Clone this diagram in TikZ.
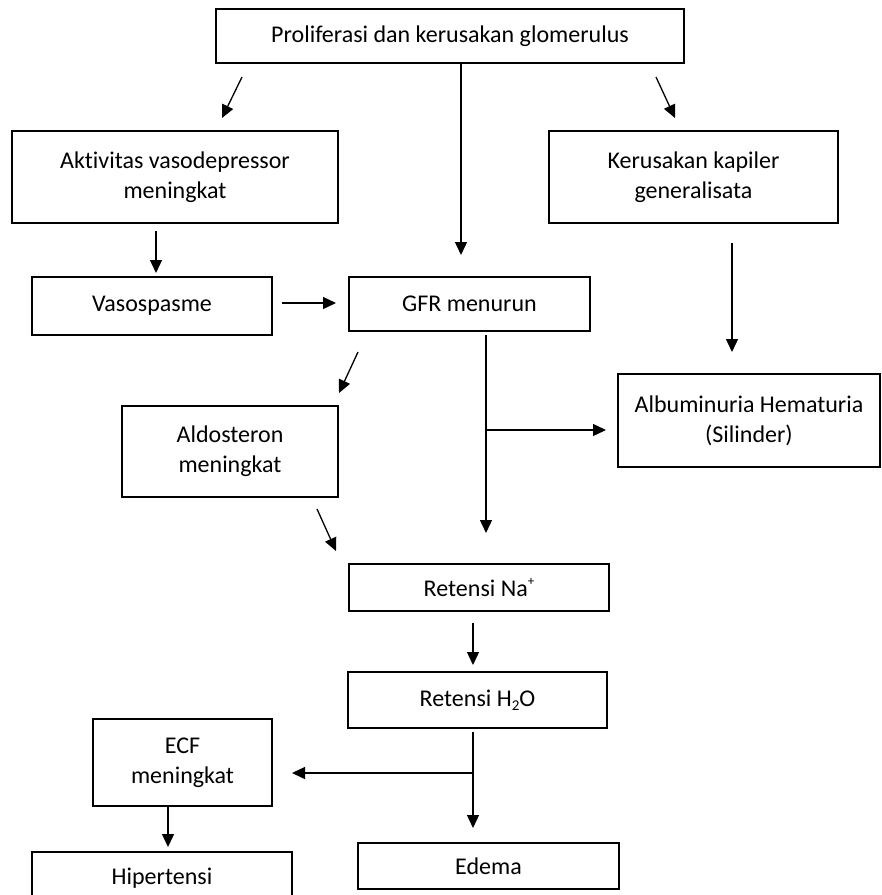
\documentclass[tikz,border=0pt]{standalone}
\usepackage{fontspec}
\setmainfont[Ligatures=NoCommon]{Carlito}
\usetikzlibrary{arrows.meta}
\newcommand{\mysup}[1]{\raisebox{0.42em}{\fontsize{13}{13}\selectfont #1}}
\newcommand{\mysub}[1]{\raisebox{-0.18em}{\fontsize{15}{15}\selectfont #1}}
\begin{document}
\begin{tikzpicture}[x=1pt,y=-1pt,
  box/.style={draw, line width=1.4pt, inner sep=0pt, align=center, font=\fontsize{24}{30}\selectfont},
  arr/.style={line width=1.3pt, -{Triangle[length=13pt,width=12pt]}}]
\useasboundingbox (0,0) rectangle (882,895);
\clip (0,0) rectangle (882,895);
% boxes
\node[box, minimum width=468pt, minimum height=54pt] (top) at (450,36) {Proliferasi dan kerusakan glomerulus};
\node[box, minimum width=326pt, minimum height=92pt] (akt) at (175,177) {Aktivitas vasodepressor\\meningkat};
\node[box, minimum width=289pt, minimum height=92pt] (ker) at (693.5,177) {Kerusakan kapiler\\generalisata};
\node[box, minimum width=240pt, minimum height=58pt] (vaso) at (152,306) {Vasospasme};
\node[box, minimum width=241pt, minimum height=54pt] (gfr) at (469.5,304) {GFR menurun};
\node[box, minimum width=216pt, minimum height=91pt] (ald) at (230,451.5) {Aldosteron\\meningkat};
\node[box, minimum width=262pt, minimum height=93pt] (alb) at (749,420.5) {Albuminuria Hematuria\\(Silinder)};
\node[box, minimum width=260pt, minimum height=47pt] (na) at (479,587.5) {Retensi Na\mysup{+}};
\node[box, minimum width=259pt, minimum height=56pt] (h2o) at (477.5,700) {Retensi H\mysub{2}O};
\node[box, minimum width=179pt, minimum height=87pt] (ecf) at (182.5,762.5) {ECF\\meningkat};
\node[box, minimum width=260pt, minimum height=52pt] (hip) at (162,878) {Hipertensi};
\node[box, minimum width=261pt, minimum height=46pt] (edema) at (488.5,866) {Edema};
% connector end points
\coordinate (a1s) at (242,77);  \coordinate (a1e) at (222,118);
\coordinate (a2s) at (656,77);  \coordinate (a2e) at (675,118);
\coordinate (a3e) at (461,255);
\coordinate (a4s) at (156,231); \coordinate (a4e) at (156,273);
\coordinate (a5s) at (282,303); \coordinate (a5e) at (336,303);
\coordinate (a6s) at (732,243); \coordinate (a6e) at (732,352);
\coordinate (a7s) at (358,352); \coordinate (a7e) at (339,393);
\coordinate (a8s) at (486,335); \coordinate (a8e) at (486,533);
\coordinate (b8) at (486,430);  \coordinate (b8e) at (606,430);
\coordinate (a9s) at (317,509); \coordinate (a9e) at (336,551);
\coordinate (a10s) at (473,623); \coordinate (a10e) at (473,665);
\coordinate (a11s) at (473,732); \coordinate (a11e) at (473,828);
\coordinate (b11) at (473,773); \coordinate (b11e) at (292,773);
\coordinate (a12e) at (168,847);
% connectors
\draw[arr] (a1s) -- (a1e);
\draw[arr] (a2s) -- (a2e);
\draw[arr] (top.south -| a3e) -- (a3e);
\draw[arr] (a4s) -- (a4e);
\draw[arr] (a5s) -- (a5e);
\draw[arr] (a6s) -- (a6e);
\draw[arr] (a7s) -- (a7e);
\draw[arr] (a8s) -- (a8e);
\draw[arr] (b8) -- (b8e);
\draw[arr] (a9s) -- (a9e);
\draw[arr] (a10s) -- (a10e);
\draw[arr] (a11s) -- (a11e);
\draw[arr] (b11) -- (b11e);
\draw[arr] (ecf.south -| a12e) -- (a12e);
\end{tikzpicture}
\end{document}
